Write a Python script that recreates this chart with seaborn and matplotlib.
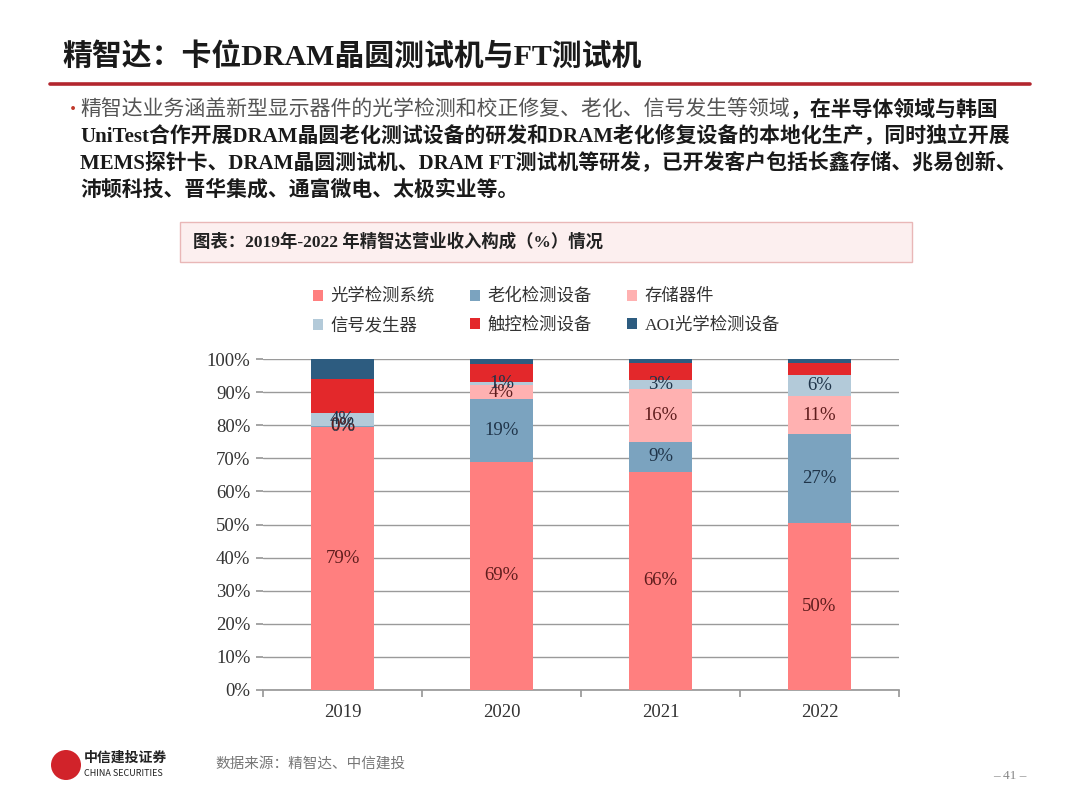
import numpy as np
import pandas as pd
import seaborn as sns
import matplotlib.pyplot as plt
from matplotlib.patches import Patch, Rectangle, Ellipse
from matplotlib.lines import Line2D

# ---- data (% of revenue) ----
years = ['2019', '2020', '2021', '2022']
optical = [79.4, 69.0, 66.0, 50.4]   # 光学检测系统
aging = [0.4, 18.9, 8.9, 26.9]       # 老化检测设备
storage = [0.0, 4.1, 16.0, 11.4]     # 存储器件
signal = [4.0, 1.0, 2.8, 6.4]        # 信号发生器
touch = [10.2, 5.4, 5.2, 3.7]        # 触控检测设备
aoi = [6.0, 1.6, 1.1, 1.2]           # AOI光学检测设备

series_names = ['光学检测系统', '老化检测设备', '存储器件', '信号发生器', '触控检测设备', 'AOI光学检测设备']
series_vals = [optical, aging, storage, signal, touch, aoi]
colors = ['#FF7F7F', '#7BA3BF', '#FFB1B1', '#B3CAD9', '#E3282B', '#2D5C80']
label_colors = ['#5e1c1c', '#1f3449', '#5e1c1c', '#1f3449']
labelled = 4  # only the first four series carry value labels

sns.set_theme(style='white')
plt.rcParams['font.family'] = ['Noto Sans CJK SC', 'DejaVu Sans']
SERIF = ['Liberation Serif', 'Noto Sans CJK SC']
W, H = 1080, 810


def fx(x):
    return x / W


def fy(y):
    return 1 - y / H


fig = plt.figure(figsize=(10.8, 8.1), dpi=100)
fig.patch.set_facecolor('white')

# ---- header ----
fig.text(fx(62), fy(56), '精智达：卡位DRAM晶圆测试机与FT测试机', family=SERIF,
         fontsize=21.5, fontweight='bold', color='#1a1a1a', va='center', ha='left')
fig.add_artist(Line2D([fx(50), fx(1030)], [fy(84), fy(84)], color='#B3262E', lw=2.6))

# ---- bullet paragraph ----
fig.text(fx(64), fy(110), '•', color='#C0392B', fontsize=13, va='center')
fs_body = 15
t1 = fig.text(fx(80), fy(110), '精智达业务涵盖新型显示器件的光学检测和校正修复、老化、信号发生等领域',
              fontsize=fs_body, color='#555555', va='center', ha='left')
fig.canvas.draw()
bb = t1.get_window_extent(renderer=fig.canvas.get_renderer())
fig.text(bb.x1 / W, fy(110), '，在半导体领域与韩国', fontsize=fs_body, fontweight='bold',
         color='#1a1a1a', va='center', ha='left')
body_lines = [
    'UniTest合作开展DRAM晶圆老化测试设备的研发和DRAM老化修复设备的本地化生产，同时独立开展',
    'MEMS探针卡、DRAM晶圆测试机、DRAM FT测试机等研发，已开发客户包括长鑫存储、兆易创新、',
    '沛顿科技、晋华集成、通富微电、太极实业等。',
]
for i, line in enumerate(body_lines):
    fig.text(fx(80), fy(137 + 26.5 * i), line, family=SERIF, fontsize=fs_body,
             fontweight='bold', color='#1a1a1a', va='center', ha='left')

# ---- chart caption box ----
fig.add_artist(Rectangle((fx(180), fy(262)), fx(912) - fx(180), fy(222) - fy(262),
                         transform=fig.transFigure, facecolor='#FCEFEF',
                         edgecolor='#E9B7B7', lw=1.0))
fig.text(fx(193), fy(242), '图表：2019年-2022 年精智达营业收入构成（%）情况', family=SERIF,
         fontsize=12.5, fontweight='bold', color='#222222', va='center', ha='left')

# ---- stacked bars ----
ax = fig.add_axes([fx(263), fy(690), fx(899) - fx(263), fy(359) - fy(690)])
cum = np.cumsum(np.array(series_vals), axis=0)
for k in range(len(series_vals) - 1, -1, -1):
    sns.barplot(x=years, y=cum[k], color=colors[k], saturation=1, width=0.4,
                linewidth=0, ax=ax, zorder=3)

for k in range(labelled):
    bottoms = cum[k] - np.array(series_vals[k])
    for i, v in enumerate(series_vals[k]):
        ax.text(i, bottoms[i] + v / 2, f'{round(v):d}%', ha='center', va='center',
                family=SERIF, fontsize=13.5, color=label_colors[k], zorder=5)

ax.set_ylim(0, 100)
ax.set_xlim(-0.5, 3.5)
ax.set_yticks(np.arange(0, 101, 10))
ax.set_yticklabels([f'{v}%' for v in range(0, 101, 10)], family=SERIF, fontsize=13.5,
                   color='#333333')
ax.set_xticks([-0.5, 0.5, 1.5, 2.5, 3.5])
ax.set_xticklabels([])
ax.set_xticks(range(4), minor=True)
ax.set_xticklabels(years, minor=True, family=SERIF, fontsize=13.5, color='#333333')
ax.tick_params(axis='x', which='major', length=5, color='#999999', direction='out', bottom=True)
ax.tick_params(axis='x', which='minor', length=0, pad=10, bottom=True)
ax.tick_params(axis='y', length=5, color='#999999', direction='out', left=True, pad=4)
ax.yaxis.grid(True, color='#9a9a9a', lw=1.0, zorder=0)
ax.set_axisbelow(True)
for s in ['top', 'right', 'left']:
    ax.spines[s].set_visible(False)
ax.spines['bottom'].set_color('#999999')
ax.set_xlabel('')
ax.set_ylabel('')

# ---- legend (row-major order: 3 columns) ----
handles = [Patch(facecolor=c, edgecolor='none') for c in colors]
order = [0, 3, 1, 4, 2, 5]
leg = fig.legend([handles[i] for i in order], [series_names[i] for i in order],
                 ncol=3, loc='upper left', bbox_to_anchor=(fx(297), fy(273)),
                 frameon=False, handlelength=0.6, handleheight=0.6, handletextpad=0.4,
                 columnspacing=2.05, labelspacing=0.72, prop={'family': SERIF, 'size': 12.5})
for t in leg.get_texts():
    t.set_color('#333333')

# ---- footer ----
fig.add_artist(Ellipse((fx(66), fy(765)), 30 / W, 30 / H, transform=fig.transFigure,
                       facecolor='#D1232A', edgecolor='none'))
fig.text(fx(84), fy(758), '中信建投证券', fontsize=10, fontweight='bold', color='#222222',
         va='center', ha='left')
fig.text(fx(84), fy(773), 'CHINA SECURITIES', fontsize=6.5, color='#222222',
         va='center', ha='left')
fig.text(fx(215), fy(764), '数据来源：精智达、中信建投', fontsize=10.5, style='italic',
         color='#777777', va='center', ha='left')
fig.text(fx(1010), fy(776), '– 41 –', family=SERIF, fontsize=9.5, color='#888888',
         va='center', ha='center')

fig.savefig('out.png', dpi=100, facecolor='white')
